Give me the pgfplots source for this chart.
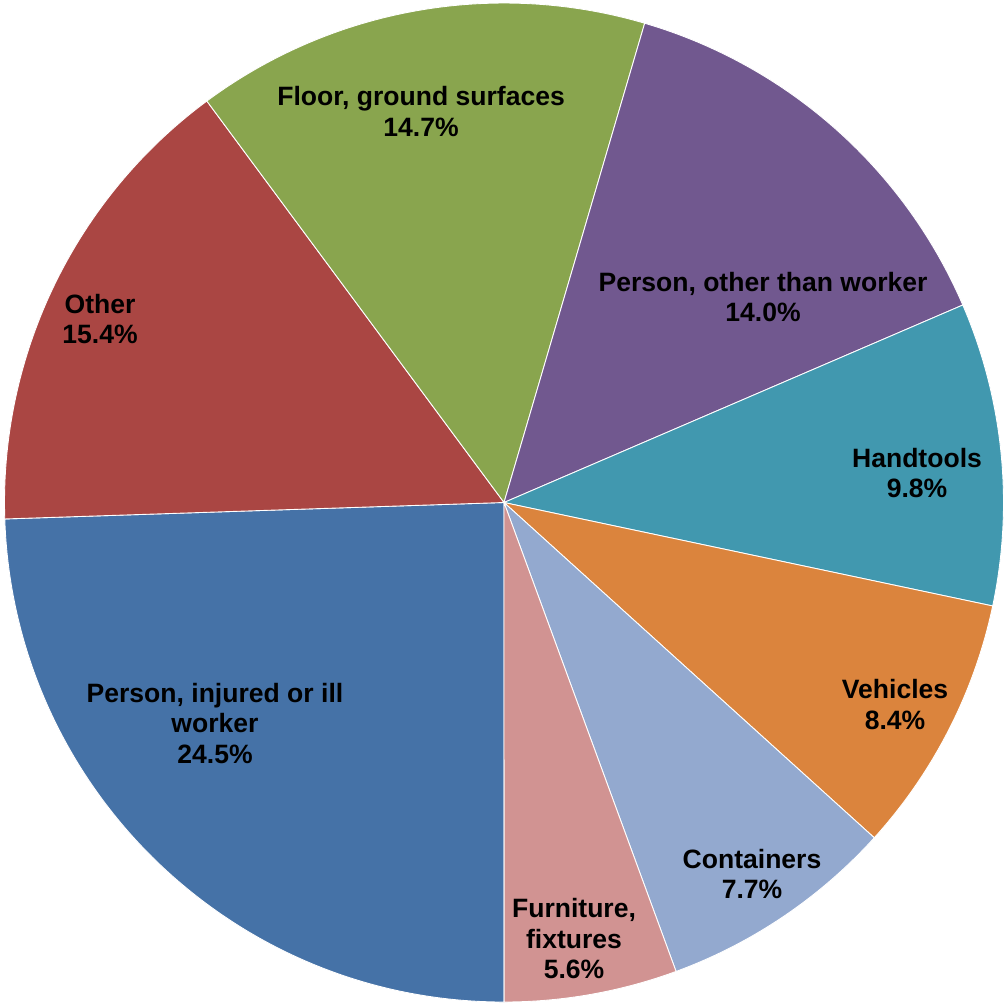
\documentclass[border=0pt]{standalone}
\usepackage{pgfplots}
\usepackage{pgfplotstable}
\pgfplotsset{compat=1.18}
\usepackage{fontspec}
\setmainfont{Liberation Sans}
\definecolor{cA}{HTML}{4572A7}
\definecolor{cB}{HTML}{AA4643}
\definecolor{cC}{HTML}{89A54E}
\definecolor{cD}{HTML}{71588F}
\definecolor{cE}{HTML}{4198AF}
\definecolor{cF}{HTML}{DB843D}
\definecolor{cG}{HTML}{93A9CF}
\definecolor{cH}{HTML}{D19392}
\pgfplotstableread[col sep=semicolon]{
name;value;color
Person injured or ill worker;24.5;cA
Other;15.4;cB
Floor ground surfaces;14.7;cC
Person other than worker;14.0;cD
Handtools;9.8;cE
Vehicles;8.4;cF
Containers;7.7;cG
Furniture fixtures;5.6;cH
}\piedata
\begin{document}
\begin{tikzpicture}
\begin{axis}[hide axis, scale only axis, width=10.06cm, height=10.04cm,
  xmin=-1.009, xmax=1.005, ymin=-1.004, ymax=1.006, clip=false]
\pgfplotstablegetrowsof{\piedata}
\pgfmathtruncatemacro\N{\pgfplotsretval-1}
\gdef\cum{-90}
\pgfplotsforeachungrouped \i in {0,...,\N}{%
  \pgfplotstablegetelem{\i}{value}\of\piedata
  \pgfmathsetmacro\v{\pgfplotsretval}%
  \pgfplotstablegetelem{\i}{color}\of\piedata
  \edef\c{\pgfplotsretval}%
  \pgfmathsetmacro\stop{\cum-\v/100.1*360}%
  \edef\temp{\noexpand\fill[\c, draw=white, line width=0.25pt] (axis cs:0,0) -- (axis cs:{cos(\cum)},{sin(\cum)}) arc[start angle=\cum, end angle=\stop, radius=1] -- cycle;}%
  \temp
  \global\let\cum\stop
}
\tikzset{lbl/.style={align=center, font=\fontsize{7.55}{8.8}\selectfont\bfseries, text=black, inner sep=0pt}}
\node[lbl] at (axis cs:-0.166,0.783) {Floor, ground surfaces\\14.7\%};
\node[lbl] at (axis cs:0.5185,0.4114) {Person, other than worker\\14.0\%};
\node[lbl] at (axis cs:0.8268,0.0591) {Handtools\\9.8\%};
\node[lbl] at (axis cs:0.7828,-0.4044) {Vehicles\\8.4\%};
\node[lbl] at (axis cs:0.4965,-0.7437) {Containers\\7.7\%};
\node[lbl] at (axis cs:0.1401,-0.8729) {Furniture,\\fixtures\\5.6\%};
\node[lbl] at (axis cs:-0.5786,-0.4424) {Person, injured or ill\\worker\\24.5\%};
\node[lbl] at (axis cs:-0.8088,0.3674) {Other\\15.4\%};
\end{axis}
\pgfresetboundingbox
\path[use as bounding box] (current axis.south west) rectangle (current axis.north east);
\end{tikzpicture}
\end{document}
